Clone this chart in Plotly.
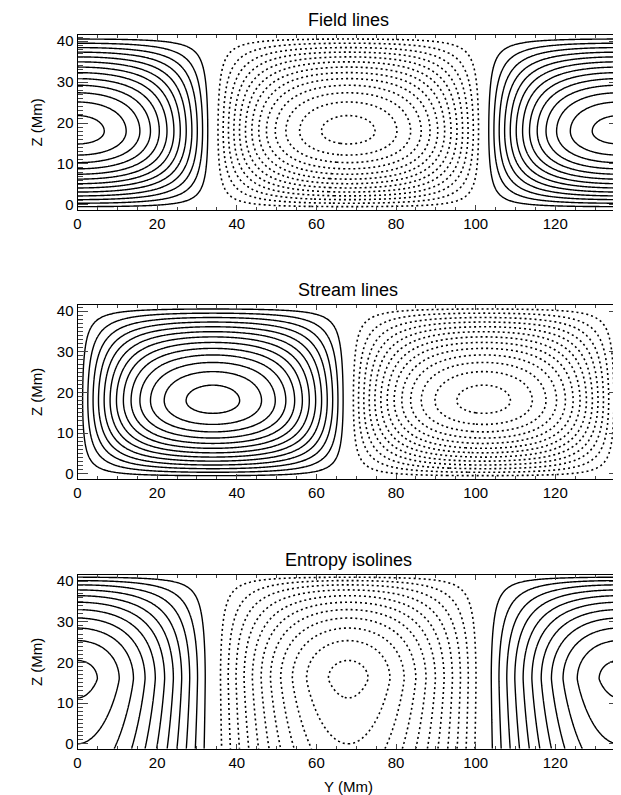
import numpy as np
import plotly.graph_objects as go

# ---- data / model parameters ----
titles = ["Field lines", "Stream lines", "Entropy isolines"]
x_tick_vals = [0, 20, 40, 60, 80, 100, 120]
z_tick_vals = [0, 10, 20, 30, 40]
y_extent = [0.0, 136.0]          # Y (Mm)
z_extent = [-1.2, 41.45]         # Z (Mm)
cell_period = 136.0              # horizontal period of the cells (Mm)
z_peak_cells = 18.0              # height of cell centres (field / stream)
z_peak_entropy = 16.0            # height of entropy extremum
level_step = 0.0746              # contour spacing (field / stream)
n_levels = 13                    # contours per sign (field / stream)
entropy_step = 0.0885            # contour spacing (entropy)
n_entropy_levels = 11            # contours per sign (entropy)
entropy_at_z0 = 0.885            # entropy amplitude at z = 0 relative to peak
x_boxiness = 0.9
z_exponent = 0.93
entropy_top_exp = 0.686
entropy_bottom_exp = 1.2

# ---- grids ----
yy = np.linspace(y_extent[0], y_extent[1], 409)
zz = np.linspace(z_extent[0], z_extent[1], 214)
zt, zb = z_extent[1], z_extent[0]
w = (zt - zz) / (zt - zb)


def vertical_profile(zpk, exp):
    wp = (zt - zpk) / (zt - zb)
    g = np.where(w <= wp, np.sin(np.pi / 2 * w / wp), np.sin(np.pi / 2 * (1 - w) / (1 - wp)))
    return np.clip(g, 0, None) ** exp


def entropy_profile():
    wp = (zt - z_peak_entropy) / (zt - zb)
    w0 = (zt - 0.0) / (zt - zb)
    top = np.clip(np.sin(np.pi / 2 * np.minimum(w, wp) / wp), 0, None) ** entropy_top_exp
    low = 1 - (1 - entropy_at_z0) * (np.clip(w - wp, 0, None) / (w0 - wp)) ** entropy_bottom_exp
    return np.where(w <= wp, top, low)


kx = 2 * np.pi * yy / cell_period
fx_cos = np.tanh(x_boxiness * np.cos(kx)) / np.tanh(x_boxiness)
fx_sin = np.tanh(x_boxiness * np.sin(kx)) / np.tanh(x_boxiness)
g = vertical_profile(z_peak_cells, z_exponent)
h = entropy_profile()

fields = [np.outer(g, fx_cos), np.outer(g, fx_sin), np.outer(h, np.cos(kx))]
steps = [level_step, level_step, entropy_step]
counts = [n_levels, n_levels, n_entropy_levels]

# ---- layout geometry (pixels) ----
W, H = 621, 795
left_px, right_px = 69.5, 611.0
panels_px = [(27.3, 201.7), (297.3, 470.7), (567.3, 740.7)]
FONT = "Liberation Sans"

fig = go.Figure()
for i, (F, st, n) in enumerate(zip(fields, steps, counts)):
    ax = "" if i == 0 else str(i + 1)
    for sign, dash in [(1, "solid"), (-1, "2px,3px")]:
        if sign > 0:
            c = dict(start=st, end=st * n, size=st, coloring="none")
        else:
            c = dict(start=-st * n, end=-st, size=st, coloring="none")
        fig.add_trace(go.Contour(
            x=yy, y=zz, z=F, contours=c, showscale=False, hoverinfo="skip",
            line=dict(color="black", width=1.4 if sign > 0 else 1.6, dash=dash, smoothing=1),
            xaxis="x" + ax, yaxis="y" + ax,
        ))

layout = dict(width=W, height=H, margin=dict(l=0, r=0, t=0, b=0, autoexpand=False),
              paper_bgcolor="white", plot_bgcolor="white", showlegend=False,
              font=dict(family=FONT, size=15, color="black"))
annotations = []
for i, (top, bot) in enumerate(panels_px):
    ax = "" if i == 0 else str(i + 1)
    xa = dict(domain=[left_px / W, right_px / W], range=y_extent, anchor="y" + ax,
              tickvals=x_tick_vals, ticks="inside", ticklen=5, tickwidth=1,
              minor=dict(dtick=5, ticks="inside", ticklen=3, tickwidth=1),
              showline=True, linecolor="black", linewidth=1, mirror="ticks",
              showgrid=False, zeroline=False, automargin=False,
              tickfont=dict(size=15, family=FONT))
    ya = dict(domain=[1 - bot / H, 1 - top / H], range=z_extent, anchor="x" + ax,
              tickvals=z_tick_vals, ticks="inside", ticklen=10, tickwidth=1,
              minor=dict(dtick=1, ticks="inside", ticklen=5, tickwidth=1),
              showline=True, linecolor="black", linewidth=1, mirror="ticks",
              showgrid=False, zeroline=False, automargin=False,
              tickfont=dict(size=15, family=FONT))
    layout["xaxis" + ax] = xa
    layout["yaxis" + ax] = ya
    annotations.append(dict(text=titles[i], x=(left_px + right_px) / 2 / W, y=1 - (top - 15) / H,
                            xref="paper", yref="paper", showarrow=False, xanchor="center",
                            yanchor="middle", font=dict(size=18, family=FONT)))
    annotations.append(dict(text="Z (Mm)", x=28 / W, y=1 - (top + bot) / 2 / H,
                            xref="paper", yref="paper", showarrow=False, textangle=-90,
                            xanchor="center", yanchor="middle", font=dict(size=15, family=FONT)))
annotations.append(dict(text="Y (Mm)", x=(left_px + right_px) / 2 / W, y=1 - 778 / H,
                        xref="paper", yref="paper", showarrow=False, xanchor="center",
                        yanchor="middle", font=dict(size=15, family=FONT)))
layout["annotations"] = annotations
fig.update_layout(**layout)
fig.write_html("out.html")
